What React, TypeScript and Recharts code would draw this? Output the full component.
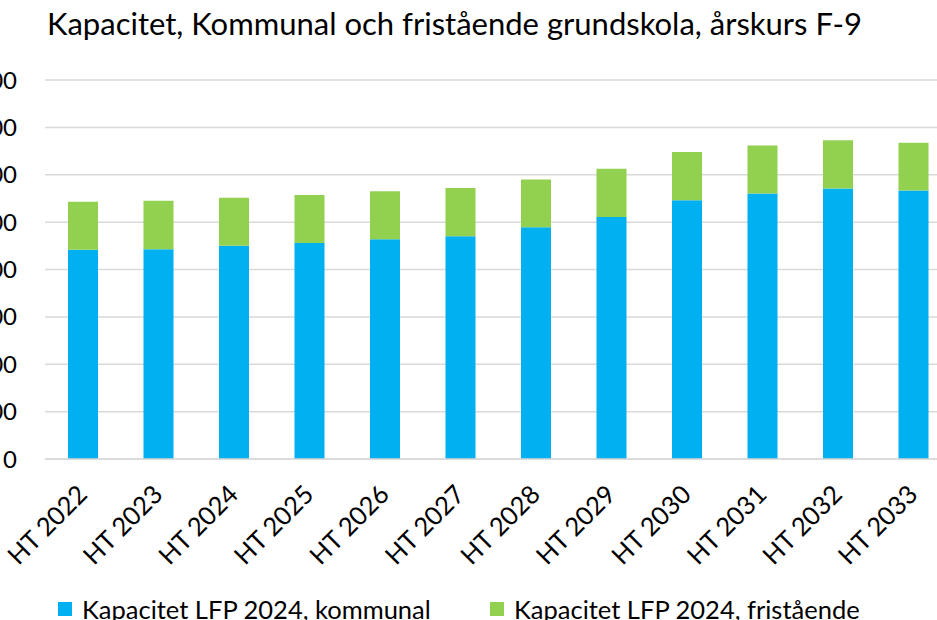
import React from 'react'
import { BarChart, Bar, XAxis, YAxis, CartesianGrid, Legend } from 'recharts'

const categories = [
  'HT 2022', 'HT 2023', 'HT 2024', 'HT 2025', 'HT 2026', 'HT 2027',
  'HT 2028', 'HT 2029', 'HT 2030', 'HT 2031', 'HT 2032', 'HT 2033',
]
const kommunal = [8830, 8860, 9000, 9120, 9280, 9400, 9780, 10220, 10920, 11210, 11420, 11340]
const fristaende = [2030, 2040, 2030, 2030, 2020, 2040, 2020, 2030, 2040, 2020, 2040, 2010]
const yTicks = [0, 2000, 4000, 6000, 8000, 10000, 12000, 14000, 16000]
const seriesNames = ['Kapacitet LFP 2024, kommunal', 'Kapacitet LFP 2024, fristående']
const seriesColors = ['#00B0F0', '#92D050']
const title = 'Kapacitet, Kommunal och fristående grundskola, årskurs F-9'

const data = categories.map((name, i) => ({
  name,
  kommunal: kommunal[i],
  fristaende: fristaende[i],
}))

const FONT = 'Lato, "Noto Sans", sans-serif'

const fmt = (v: number) => String(v).replace(/\B(?=(\d{3})+(?!\d))/g, ' ')

const XTick = (props: any) => {
  const { x, y, payload } = props
  return (
    <g transform={`translate(${x + 6},${y + 37})`}>
      <text textAnchor="end" transform="rotate(-45)" fontSize={25.5} fill="#000" fontFamily={FONT}>
        {payload.value}
      </text>
    </g>
  )
}

const legendLefts = [58, 490]

const LegendContent = (props: any) => {
  // keep series order (recharts reverses stacked payload)
  const items = [...(props.payload || [])].sort(
    (a: any, b: any) => seriesNames.indexOf(a.value) - seriesNames.indexOf(b.value),
  )
  return (
    <div style={{ position: 'relative', height: 40, fontFamily: FONT }}>
      {items.map((item: any, i: number) => (
        <div
          key={item.value}
          style={{ position: 'absolute', left: legendLefts[i], top: 16, display: 'flex', alignItems: 'center' }}
        >
          <span style={{ width: 14, height: 14, background: item.color, display: 'inline-block', marginRight: 10 }} />
          <span style={{ fontSize: 25.5, color: '#000', lineHeight: '26px' }}>{item.value}</span>
        </div>
      ))}
    </div>
  )
}

export default function App() {
  return (
    <div style={{ position: 'fixed', top: 0, left: 0, width: 937, height: 620, overflow: 'hidden', background: '#fff' }}>
      <div
        style={{ position: 'absolute', left: 47, top: 4, fontSize: 31, fontFamily: FONT, color: '#000', whiteSpace: 'nowrap' }}
      >
        {title}
      </div>
      <BarChart width={960} height={620} data={data} margin={{ top: 80, right: 9, bottom: 0, left: 0 }}>
        <CartesianGrid vertical={false} stroke="#d9d9d9" strokeWidth={1.5} />
        <XAxis
          dataKey="name"
          height={121}
          tick={<XTick />}
          tickLine={false}
          axisLine={{ stroke: '#d9d9d9', strokeWidth: 1.5 }}
          tickSize={0}
          tickMargin={0}
          interval={0}
        />
        <YAxis
          width={45}
          domain={[0, 16000]}
          ticks={yTicks}
          tickFormatter={fmt}
          axisLine={false}
          tickLine={false}
          tickSize={0}
          tickMargin={28}
          tick={{ fontSize: 24, fill: '#000', fontFamily: FONT }}
        />
        <Legend verticalAlign="bottom" height={40} content={<LegendContent />} />
        <Bar dataKey="kommunal" name={seriesNames[0]} stackId="a" fill={seriesColors[0]} barSize={30} isAnimationActive={false} />
        <Bar dataKey="fristaende" name={seriesNames[1]} stackId="a" fill={seriesColors[1]} barSize={30} isAnimationActive={false} />
      </BarChart>
    </div>
  )
}
